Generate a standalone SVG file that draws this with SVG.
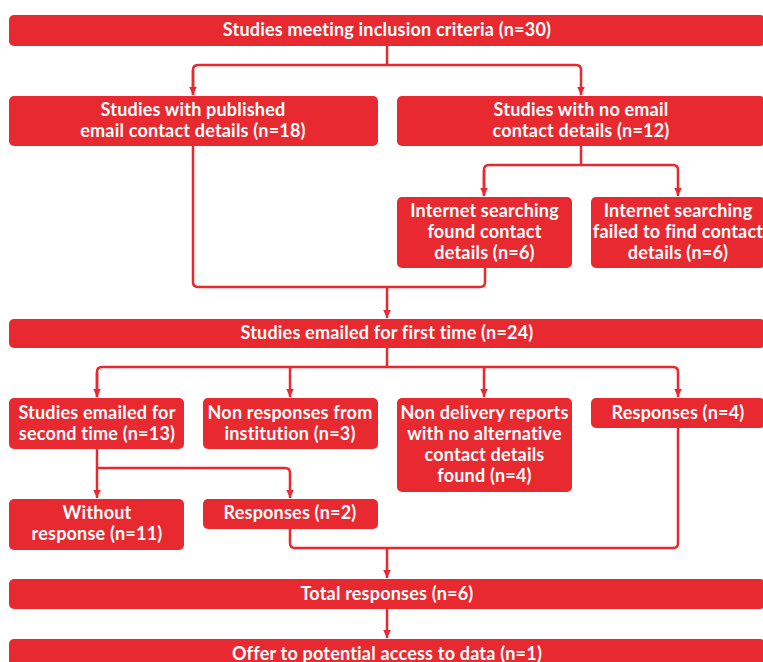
<svg xmlns="http://www.w3.org/2000/svg" width="763" height="662" viewBox="0 0 763 662">
<style>
.box{fill:#e8292f;}
.t{font-family:Lato,"Noto Sans","DejaVu Sans",sans-serif;font-weight:bold;font-size:18px;letter-spacing:0.2px;fill:#ffffff;text-anchor:middle;}
.c{fill:none;stroke:#e8292f;stroke-width:2.5;}
</style>
<defs>
<marker id="ah" markerUnits="userSpaceOnUse" markerWidth="9" markerHeight="8" refX="8.5" refY="4" orient="auto">
<path d="M0,0 L8.5,4 L0,8 z" fill="#e8292f"/>
</marker>
</defs>
<rect width="763" height="662" fill="#ffffff"/>
<g id="connectors">
<path class="c" d="M387,46 V65"/>
<path class="c" d="M193,95 V70 Q193,65 198,65 H576 Q581,65 581,70 V95" marker-end="url(#ah)"/>
<path class="c" d="M193,70 V95" marker-end="url(#ah)"/>
<path class="c" d="M581,146 V165"/>
<path class="c" d="M484,196 V170 Q484,165 489,165 H673 Q678,165 678,170 V196" marker-end="url(#ah)"/>
<path class="c" d="M484,170 V196" marker-end="url(#ah)"/>
<path class="c" d="M193,146 V282 Q193,287 198,287 H480 Q485,287 485,282 V268"/>
<path class="c" d="M387,287 V318" marker-end="url(#ah)"/>
<path class="c" d="M387,348 V367"/>
<path class="c" d="M97,397 V372 Q97,367 102,367 H673 Q678,367 678,372 V397" marker-end="url(#ah)"/>
<path class="c" d="M97,372 V397" marker-end="url(#ah)"/>
<path class="c" d="M290,367 V397" marker-end="url(#ah)"/>
<path class="c" d="M484,367 V397" marker-end="url(#ah)"/>
<path class="c" d="M97,449 V498" marker-end="url(#ah)"/>
<path class="c" d="M97,468 H285 Q290,468 290,473 V498" marker-end="url(#ah)"/>
<path class="c" d="M290,529 V543 Q290,548 295,548 H673 Q678,548 678,543 V428"/>
<path class="c" d="M387,548 V578" marker-end="url(#ah)"/>
<path class="c" d="M387,609 V638" marker-end="url(#ah)"/>
</g>
<g id="n1"><rect class="box" x="9" y="15" width="756" height="31" rx="5"/><text class="t" x="387" y="36">Studies meeting inclusion criteria (n=30)</text></g>
<g id="n2"><rect class="box" x="9" y="96" width="369" height="50" rx="5"/><text class="t" x="193" y="116">Studies with published</text><text class="t" x="193" y="137">email contact details (n=18)</text></g>
<g id="n3"><rect class="box" x="397" y="96" width="368" height="50" rx="5"/><text class="t" x="581" y="116">Studies with no email</text><text class="t" x="581" y="137">contact details (n=12)</text></g>
<g id="n4"><rect class="box" x="397" y="197" width="175" height="71" rx="5"/><text class="t" x="484.5" y="217">Internet searching</text><text class="t" x="484.5" y="238">found contact</text><text class="t" x="484.5" y="259">details (n=6)</text></g>
<g id="n5"><rect class="box" x="591" y="197" width="174" height="71" rx="5"/><text class="t" x="678" y="217">Internet searching</text><text class="t" x="678" y="238">failed to find contact</text><text class="t" x="678" y="259">details (n=6)</text></g>
<g id="n6"><rect class="box" x="9" y="319" width="756" height="29" rx="5"/><text class="t" x="387" y="339">Studies emailed for first time (n=24)</text></g>
<g id="n7"><rect class="box" x="9" y="398" width="175" height="51" rx="5"/><text class="t" x="97" y="419">Studies emailed for</text><text class="t" x="97" y="440">second time (n=13)</text></g>
<g id="n8"><rect class="box" x="203" y="398" width="175" height="51" rx="5"/><text class="t" x="290" y="419">Non responses from</text><text class="t" x="290" y="440">institution (n=3)</text></g>
<g id="n9"><rect class="box" x="397" y="398" width="175" height="94" rx="5"/><text class="t" x="484.5" y="419">Non delivery reports</text><text class="t" x="484.5" y="440">with no alternative</text><text class="t" x="484.5" y="461">contact details</text><text class="t" x="484.5" y="482">found (n=4)</text></g>
<g id="n10"><rect class="box" x="591" y="398" width="174" height="30" rx="5"/><text class="t" x="678" y="419">Responses (n=4)</text></g>
<g id="n11"><rect class="box" x="9" y="499" width="175" height="51" rx="5"/><text class="t" x="97" y="519">Without</text><text class="t" x="97" y="540">response (n=11)</text></g>
<g id="n12"><rect class="box" x="203" y="499" width="175" height="30" rx="5"/><text class="t" x="290" y="519">Responses (n=2)</text></g>
<g id="n13"><rect class="box" x="9" y="579" width="756" height="30" rx="5"/><text class="t" x="387" y="600">Total responses (n=6)</text></g>
<g id="n14"><rect class="box" x="9" y="639" width="756" height="30" rx="5"/><text class="t" x="387" y="660">Offer to potential access to data (n=1)</text></g>
</svg>
